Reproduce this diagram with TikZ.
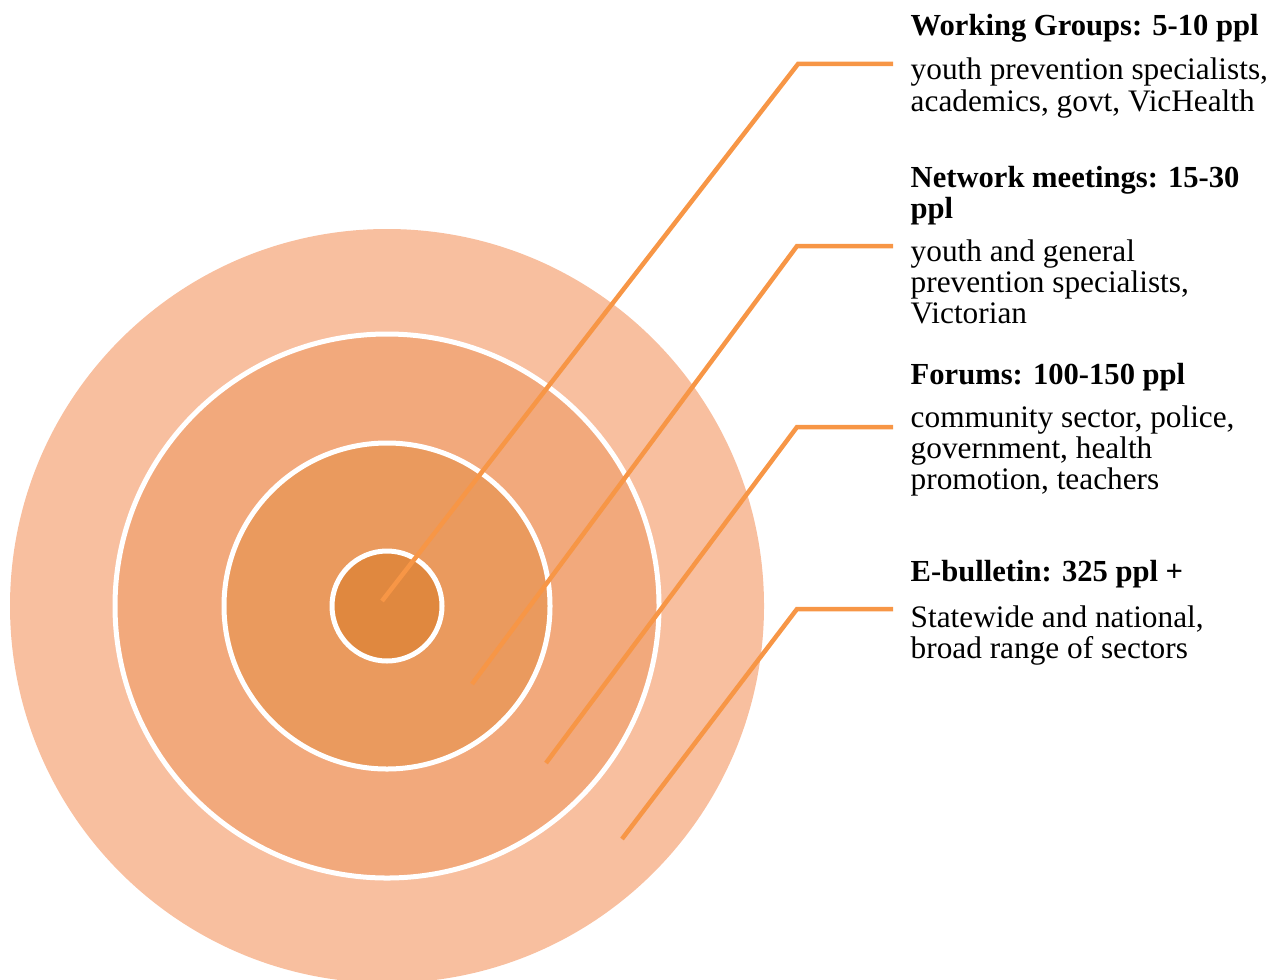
\documentclass[tikz,border=0pt]{standalone}
\usepackage{fontspec}
\setmainfont{Liberation Serif}
\definecolor{ringA}{HTML}{F8BF9F}
\definecolor{ringB}{HTML}{F2A97C}
\definecolor{ringC}{HTML}{EA9A5E}
\definecolor{ringD}{HTML}{E0883F}
\definecolor{leader}{HTML}{F79646}
\begin{document}
\begin{tikzpicture}[x=0.01cm,y=-0.01cm,
  disc/.style={fill=#1},
  sep/.style={draw=white, line width=0.05cm},
  lead/.style={draw=leader, line width=0.045cm},
  headtxt/.style={anchor=base west, inner sep=0, font=\fontsize{8.7}{8.82}\bfseries\selectfont},
  bodytxt/.style={anchor=base west, inner sep=0, font=\fontsize{8.9}{8.82}\selectfont}]
\useasboundingbox (0,0) rectangle (1277,979);
% concentric circles
\coordinate (c) at (387,606);
\path[disc=ringA] (c) circle[radius=377];
\path[disc=ringB, sep] (c) circle[radius=272];
\path[disc=ringC, sep] (c) circle[radius=163];
\path[disc=ringD, sep] (c) circle[radius=55];
% texts
\node[headtxt] (wgh) at (910,36) {\parbox[t]{4cm}{\raggedright Working Groups: 5-10 ppl}};
\node[bodytxt] (wgb) at (910,80) {\parbox[t]{4cm}{\raggedright youth prevention specialists,\\academics, govt, VicHealth}};
\node[headtxt] (nmh) at (910,187) {\parbox[t]{4cm}{\raggedright Network meetings: 15-30\\ppl}};
\node[bodytxt] (nmb) at (910,261) {\parbox[t]{4cm}{\raggedright youth and general\\prevention specialists,\\Victorian}};
\node[headtxt] (foh) at (910,384) {\parbox[t]{4cm}{\raggedright Forums: 100-150 ppl}};
\node[bodytxt] (fob) at (910,427) {\parbox[t]{4cm}{\raggedright community sector, police,\\government, health\\promotion, teachers}};
\node[headtxt] (ebh) at (910,581) {\parbox[t]{4cm}{\raggedright E-bulletin: 325 ppl +}};
\node[bodytxt] (ebb) at (910,627) {\parbox[t]{4cm}{\raggedright Statewide and national,\\broad range of sectors}};
% leader lines
\coordinate (s1) at (382,601); \coordinate (k1) at (798,64);  \coordinate (e1) at (893,64);
\coordinate (s2) at (472,684); \coordinate (k2) at (797,246); \coordinate (e2) at (893,246);
\coordinate (s3) at (546,763); \coordinate (k3) at (797,427); \coordinate (e3) at (893,427);
\coordinate (s4) at (622,839); \coordinate (k4) at (797,609); \coordinate (e4) at (893,609);
\draw[lead] (s1) -- (k1) -- (e1);
\draw[lead] (s2) -- (k2) -- (e2);
\draw[lead] (s3) -- (k3) -- (e3);
\draw[lead] (s4) -- (k4) -- (e4);
\end{tikzpicture}
\end{document}
